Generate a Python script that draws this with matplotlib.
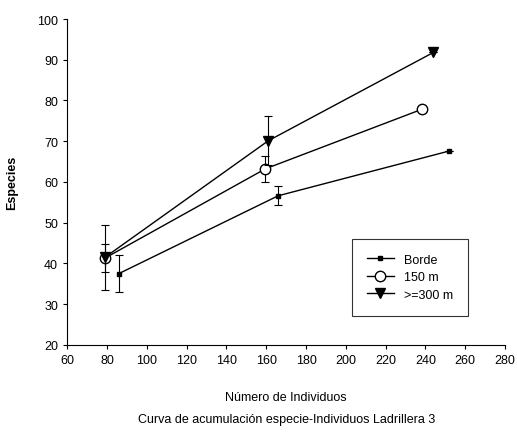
import matplotlib
matplotlib.use("Agg")
import matplotlib.pyplot as plt

plt.rcParams["font.family"] = ["Liberation Sans", "DejaVu Sans"]

# Borde
borde_x = [86, 166, 252]
borde_y = [37.5, 56.6, 67.6]
borde_err = [4.5, 2.3, 0]
# 150 m
m150_x = [79, 159.5, 238]
m150_y = [41.3, 63.2, 77.8]
m150_err = [3.5, 3.2, 0]
# >=300 m
m300_x = [79, 161, 244]
m300_y = [41.5, 70.1, 91.8]
m300_err = [8.0, 6.0, 0]

fig = plt.figure(figsize=(5.17, 4.35), dpi=100)
ax = fig.add_axes([0.13, 0.205, 0.847, 0.749])

series = [
    (borde_x, borde_y, borde_err, "s", 3.5, "black", "Borde"),
    (m150_x, m150_y, m150_err, "o", 7.5, "white", "150 m"),
    (m300_x, m300_y, m300_err, "v", 6.5, "black", ">=300 m"),
]
handles = []
for x, y, e, mk, ms, fc, lab in series:
    ax.errorbar(x, y, yerr=e, fmt="none", ecolor="black", elinewidth=0.8,
                capsize=3, capthick=0.8)
    h, = ax.plot(x, y, color="black", lw=1.0, marker=mk, ms=ms, mfc=fc,
                 mec="black", label=lab)
    handles.append(h)

ax.set_xlim(60, 280)
ax.set_ylim(20, 100)
ax.set_xticks(range(60, 281, 20))
ax.set_yticks(range(20, 101, 10))
ax.tick_params(labelsize=9, length=3, width=0.8)
for s in ("top", "right"):
    ax.spines[s].set_visible(False)

ax.set_ylabel("Especies", fontsize=9, fontweight="bold", labelpad=14)
ax.set_xlabel("Número de Individuos\n\nCurva de acumulación especie-Individuos Ladrillera 3",
              fontsize=9, labelpad=18, linespacing=0.9)

leg = ax.legend(handles=handles, loc="lower right", bbox_to_anchor=(0.93, 0.07),
                fontsize=9, fancybox=False, edgecolor="black", handlelength=2.2,
                borderpad=1.2, labelspacing=0.45)
leg.get_frame().set_linewidth(0.8)

fig.savefig("out.png", dpi=100)
